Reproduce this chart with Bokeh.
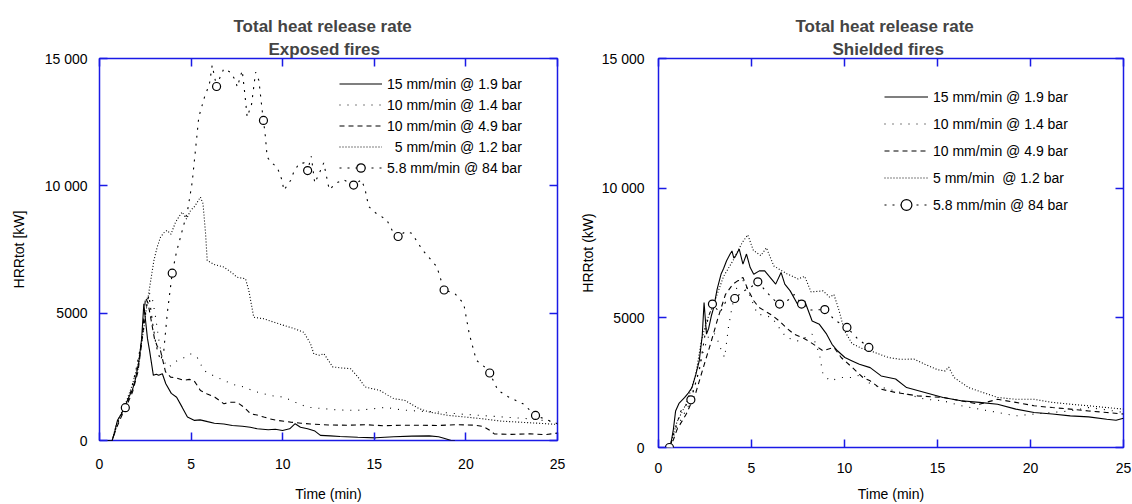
from bokeh.plotting import figure
from bokeh.models import LinearAxis, FixedTicker, Legend, LegendItem, Title, Range1d
from bokeh.layouts import row
from bokeh.embed import file_html
from bokeh.resources import INLINE

# ---------------- data: Exposed fires ----------------
labels = ["15 mm/min @ 1.9 bar", "10 mm/min @ 1.4 bar", "10 mm/min @ 4.9 bar",
          "\u20075 mm/min @ 1.2 bar", "5.8 mm/min @ 84 bar"]
labels_sh = ["15 mm/min @ 1.9 bar", "10 mm/min @ 1.4 bar", "10 mm/min @ 4.9 bar",
             "5 mm/min  @ 1.2 bar", "5.8 mm/min @ 84 bar"]
x_ticks = [0, 5, 10, 15, 20, 25]
y_ticks = [0, 5000, 10000, 15000]
y_tick_labels = {0: "0", 5000: "5000", 10000: "10 000", 15000: "15 000"}

exp_t1 = [0, 0.69, 0.85, 0.98, 1.2, 1.37, 1.6, 1.8, 1.96, 2.15, 2.3, 2.42, 2.5, 2.62, 2.74, 2.94, 3.1, 3.23,
          3.43, 3.62, 3.92, 4.21, 4.51, 4.8, 5.19, 5.49, 5.9, 6.27, 6.79, 7.25, 7.8, 8.23, 8.61, 9.21, 9.6,
          9.99, 10.38, 10.68, 10.97, 11.36, 11.76, 12.06, 12.6, 13.13, 14.1, 15.09, 16.07, 17.05, 18.0,
          18.51, 18.8, 19.2, 19.4]
exp_h1 = [0, 0, 400, 790, 1050, 1310, 1700, 2000, 2400, 3100, 4000, 5370, 4800, 4000, 3500, 2560, 2600, 2560,
          2620, 2230, 1850, 1700, 1310, 920, 790, 810, 740, 680, 650, 590, 560, 520, 460, 420, 440,
          390, 460, 660, 520, 460, 370, 200, 180, 160, 130, 105, 150, 170, 180,
          150, 90, 0, 0]

exp_t2 = [0, 0.7, 0.9, 1.2, 1.5, 1.8, 2.1, 2.4, 2.65, 2.85, 3.05, 3.25, 3.42, 3.69, 3.95, 4.24, 4.6, 4.97,
          5.33, 5.7, 6.2, 6.79, 7.3, 7.88, 8.4, 8.97, 9.5, 10.06, 10.7, 11.33, 12.24, 13.0, 14.0, 15.0, 15.6,
          16.5, 17.5, 18.5, 19.5, 20.5, 21.5, 22.5, 23.5, 24.3, 25]
exp_h2 = [0, 0, 500, 1000, 1450, 2000, 2800, 4300, 5820, 5700, 4900, 3900, 3270, 2880, 2950, 3140, 3250, 3400,
          3270, 2750, 2550, 2360, 2200, 2100, 1950, 1830, 1750, 1700, 1500, 1310, 1250, 1200, 1180, 1250, 1300,
          1200, 1150, 1120, 1050, 1000, 950, 900, 850, 780, 720]

exp_t3 = [0, 0.7, 0.9, 1.2, 1.5, 1.8, 2.1, 2.3, 2.51, 2.65, 2.8, 3.0, 3.15, 3.33, 3.6, 3.88, 4.2, 4.6, 4.9,
          5.15, 5.35, 5.51, 5.88, 6.3, 6.79, 7.1, 7.51, 7.9, 8.24, 8.6, 8.97, 9.3, 9.7, 10.43, 11.0, 11.52,
          12.5, 13.5, 14.5, 15.5, 16.5, 17.5, 18.5, 19.5, 20.5, 20.96, 21.3, 21.55, 22.5, 23.5, 24.3, 25]
exp_h3 = [0, 0, 450, 950, 1400, 1900, 2700, 3800, 5600, 5400, 4800, 4000, 3700, 3530, 2700, 2490, 2450, 2360, 2400,
          2360, 2150, 1960, 1830, 1700, 1440, 1500, 1500, 1300, 1050, 1000, 920, 850, 790, 720, 680, 650,
          610, 600, 620, 580, 600, 600, 590, 620, 600, 550, 400, 260, 240, 260, 230, 290]

exp_t4 = [0, 0.7, 0.9, 1.2, 1.5, 1.8, 2.1, 2.4, 2.6, 2.8, 2.97, 3.15, 3.33, 3.5, 3.69, 3.9, 4.15, 4.35, 4.51,
          4.75, 4.97, 5.2, 5.51, 5.65, 5.79, 5.88, 6.3, 6.79, 7.2, 7.51, 7.97, 8.15, 8.42, 8.97, 9.5, 10.06,
          10.6, 11.15, 11.52, 11.7, 12.0, 12.25, 12.73, 13.2, 13.7, 14.1, 14.5, 15.28, 16.07, 16.65, 17.44,
          18.0, 18.99, 19.98, 20.96, 21.94, 22.92, 23.9, 25]
exp_h4 = [0, 0, 600, 1100, 1600, 2200, 3000, 4300, 5400, 6300, 7070, 7600, 7980, 8150, 8250, 8100, 8570, 8800, 8970,
          8700, 9030, 9200, 9560, 9300, 8120, 7070, 6900, 6810, 6600, 6410, 6350, 5890, 4840, 4780, 4650, 4520,
          4400, 4250, 3800, 3400, 3350, 3410, 2890, 2850, 2820, 2500, 2100, 1970, 1640, 1580, 1250,
          1120, 990, 920, 850, 760, 720, 680, 630]

exp_t5 = [0, 0.7, 0.9, 1.1, 1.41, 1.7, 2.0, 2.3, 2.55, 2.7, 2.9, 3.1, 3.33, 3.51, 3.7, 3.97, 4.2, 4.5, 4.8, 5.06,
          5.42, 5.73, 6.0, 6.15, 6.39, 6.6, 6.79, 7.15, 7.42, 7.52, 7.79, 7.95, 8.06, 8.3, 8.52, 8.7, 8.88, 8.95,
          9.06, 9.15, 9.4, 9.7, 9.97, 10.06, 10.43, 10.58, 10.88, 11.17, 11.36, 11.56, 11.75, 12.0, 12.24,
          12.54, 12.93, 13.32, 13.87, 14.3, 14.5, 14.69, 15.08, 15.67, 16.06, 16.3, 16.7, 17.04, 17.63, 18.41,
          18.81, 19.39, 19.88, 20.18, 20.57, 21.0, 21.3, 21.75, 22.33, 23.12, 23.8, 24.29, 25]
exp_h5 = [0, 0, 500, 900, 1290, 1900, 2800, 3900, 5200, 5700, 4600, 3700, 3140, 3530, 5000, 6570, 7400, 8200, 9000,
          10140, 12700, 13480, 14000, 14730, 13900, 14300, 14600, 14460, 14140, 13880, 14530, 13500, 12700, 13200,
          14460, 14140, 12960, 12570, 11910, 11130, 10900, 10730, 10210, 9820, 10210, 10500, 10870, 10900, 10600,
          11160, 10110, 10500, 10900, 9850, 10110, 10240, 10030, 10240, 9850, 9190, 8930, 8670, 8140, 8010,
          8200, 8140, 7480, 6830, 5910, 5780, 5380, 4200, 3150, 2900, 2650, 1970, 1710, 1440, 985, 850, 660]
exp_mark_t = [1.41, 3.97, 6.39, 8.95, 11.36, 13.87, 16.3, 18.81, 21.3, 23.8]
exp_mark_h = [1290, 6570, 13900, 12570, 10600, 10030, 8010, 5910, 2650, 985]

# ---------------- data: Shielded fires ----------------
sh_t1 = [0, 0.63, 0.8, 0.92, 1.1, 1.41, 1.6, 1.8, 2.0, 2.19, 2.35, 2.45, 2.58, 2.7, 2.85, 2.97, 3.15, 3.36, 3.5,
         3.66, 3.85, 3.95, 4.05, 4.15, 4.34, 4.54, 4.73, 4.93, 5.12, 5.42, 5.71, 6.0, 6.3, 6.59, 6.79, 7.08,
         7.47, 7.67, 7.86, 8.26, 8.65, 9.04, 9.33, 9.62, 10.02, 10.41, 10.8, 11.38, 11.97, 12.75, 13.34, 14.32,
         15.3, 16.27, 17.25, 18.23, 19.21, 20.19, 21.17, 22.14, 23.12, 24.1, 24.6, 25]
sh_h1 = [0, 0, 700, 1410, 1700, 1930, 2100, 2310, 2800, 3340, 4300, 5590, 4370, 4600, 5100, 5400, 6100, 6680, 6900,
         7200, 7460, 7580, 7300, 7390, 7650, 7070, 7460, 6940, 6680, 6810, 6810, 6560, 6300, 6750, 6300, 6040,
         5530, 5400, 5650, 4880, 4750, 4370, 3980, 3730, 3470, 3340, 3210, 3080, 2760, 2640, 2310, 2120,
         1930, 1800, 1740, 1670, 1480, 1350, 1290, 1220, 1180, 1090, 1050, 1130]

sh_t2 = [0, 0.6, 0.8, 1.0, 1.3, 1.6, 2.0, 2.4, 2.7, 3.0, 3.2, 3.4, 3.56, 3.76, 3.95, 4.15, 4.34, 4.6, 5.0, 5.32,
         5.7, 6.1, 6.5, 6.88, 7.47, 7.9, 8.26, 8.65, 8.84, 9.23, 9.82, 10.41, 10.99, 11.38, 12.36, 13.34, 14.32,
         15.3, 16.27, 17.25, 18.23, 19.21, 20.19, 21.17, 22.14, 23.12, 24.1, 25]
sh_h2 = [0, 0, 400, 800, 1200, 1600, 2500, 3700, 4300, 4400, 4100, 3700, 3470, 4630, 5400, 6000, 6550, 6400, 5700, 5140,
         5100, 5010, 4600, 4240, 4110, 4250, 4370, 3600, 2830, 2570, 2700, 2700, 2830, 2440, 2250, 2060, 1860,
         1800, 1610, 1480, 1350, 1220, 1290, 1350, 1410, 1540, 1450, 1350]

sh_t3 = [0, 0.6, 0.8, 1.0, 1.5, 2.0, 2.5, 2.8, 3.2, 3.6, 4.0, 4.3, 4.54, 4.8, 5.12, 5.4, 5.71, 6.1, 6.49, 6.9,
         7.28, 7.7, 8.06, 8.5, 8.84, 9.43, 9.82, 10.41, 10.99, 11.38, 11.97, 12.75, 13.93, 15.3, 16.27, 17.25,
         18.23, 19.21, 20.19, 21.17, 22.14, 23.12, 24.1, 25]
sh_h3 = [0, 0, 300, 700, 1300, 2100, 3300, 4000, 5000, 5900, 6300, 6450, 6560, 6100, 5660, 5400, 5270, 5100, 4880, 4600,
         4370, 4250, 4110, 3900, 3730, 3860, 3470, 3090, 2700, 2570, 2250, 2120, 1990, 1930, 1800, 1670,
         1860, 1740, 1610, 1540, 1480, 1410, 1350, 1290]

sh_t4 = [0, 0.6, 0.8, 1.0, 1.5, 2.0, 2.3, 2.6, 3.0, 3.5, 4.0, 4.5, 4.8, 5.1, 5.5, 5.8, 6.2, 6.9, 7.5, 7.86, 8.2,
         8.84, 9.2, 9.43, 9.7, 10.0, 10.41, 11.0, 11.38, 12.36, 13.0, 13.73, 14.32, 15.0, 15.4, 15.6, 15.89,
         16.67, 17.45, 18.23, 19.21, 20.19, 21.17, 22.14, 23.12, 24.1, 25]
sh_h4 = [0, 0, 500, 1000, 1700, 2800, 4100, 4900, 5600, 6600, 7200, 7900, 8200, 7600, 7400, 7700, 7000, 6700, 6500,
         6600, 6000, 6040, 5800, 5900, 5300, 4500, 4000, 3800, 3730, 3470, 3400, 3410, 3210, 3000, 2950, 3100, 2700,
         2310, 2120, 1930, 1860, 1860, 1740, 1670, 1610, 1540, 1480]

sh_t5 = [0, 0.59, 0.8, 1.2, 1.74, 2.2, 2.6, 2.9, 3.3, 3.6, 4.1, 4.5, 5.0, 5.34, 5.8, 6.2, 6.51, 7.0, 7.3, 7.69,
         8.2, 8.94, 9.5, 10.13, 10.7, 11.31, 11.6]
sh_h5 = [0, 0, 500, 1400, 1840, 3000, 4800, 5530, 5200, 5600, 5745, 6000, 6200, 6390, 6000, 5700, 5530, 5700, 5900,
         5530, 5300, 5320, 4900, 4630, 4200, 3860, 3700]
sh_mark_t = [0.59, 1.74, 2.9, 4.1, 5.34, 6.51, 7.69, 8.94, 10.13, 11.31]
sh_mark_h = [0, 1840, 5530, 5745, 6390, 5530, 5530, 5320, 4630, 3860]

# ---------------- styling ----------------
FONT = "Liberation Sans"
BLUE = "#1a1ae6"
DASHES = ["solid", "1 7", "5 4", "1 2", "2 6"]


def base_axis_style(ax):
    ax.axis_line_color = None
    ax.major_tick_in = 8
    ax.major_tick_out = 0
    ax.major_tick_line_color = BLUE
    ax.major_tick_line_width = 1.5
    ax.minor_tick_line_color = None


def make_plot(series, marks, titles, title_offsets, ylabel, legend_labels, fw, fh, bl, bt, bb, br,
              xstand, xlab_stand, ystand, ylab_stand, leg_xy, leg_rowh, leg_gw):
    p = figure(x_range=Range1d(0, 25), y_range=Range1d(0, 15000),
               frame_width=fw, frame_height=fh,
               min_border_left=bl, min_border_top=bt, min_border_bottom=bb, min_border_right=br,
               output_backend="svg", toolbar_location=None, title=None)
    p.grid.visible = False
    p.outline_line_color = BLUE
    p.outline_line_width = 1.5
    p.background_fill_color = "white"
    p.border_fill_color = "white"

    p.xaxis.ticker = FixedTicker(ticks=x_ticks)
    p.yaxis.ticker = FixedTicker(ticks=y_ticks)
    for ax in (p.xaxis[0], p.yaxis[0]):
        base_axis_style(ax)
        ax.major_label_text_font = FONT
        ax.major_label_text_font_size = "14px"
        ax.major_label_text_color = "black"
        ax.axis_label_text_font = FONT
        ax.axis_label_text_font_size = "14px"
        ax.axis_label_text_font_style = "normal"
        ax.axis_label_text_color = "black"
    p.xaxis.axis_label = "Time (min)"
    p.xaxis.major_label_standoff = xstand
    p.xaxis.axis_label_standoff = xlab_stand
    p.yaxis.axis_label = ylabel
    p.yaxis.major_label_standoff = ystand
    p.yaxis.axis_label_standoff = ylab_stand
    p.yaxis.major_label_overrides = y_tick_labels

    # tick-only axes on top and right (labels not drawn)
    top = LinearAxis(ticker=FixedTicker(ticks=x_ticks))
    right = LinearAxis(ticker=FixedTicker(ticks=y_ticks))
    for ax in (top, right):
        base_axis_style(ax)
        ax.major_label_text_font_size = "1px"
        ax.major_label_text_color = None
        ax.major_label_standoff = 0
    p.add_layout(top, "above")
    p.add_layout(right, "right")

    p.add_layout(Title(text=titles[1], align="left", offset=title_offsets[1], text_font=FONT,
                       text_font_size="17px", text_font_style="bold", standoff=0), "above")
    p.add_layout(Title(text=titles[0], align="left", offset=title_offsets[0], text_font=FONT,
                       text_font_size="17px", text_font_style="bold", standoff=3), "above")

    items = []
    for i, (t, h) in enumerate(series):
        r = p.line(t, h, line_color="black", line_width=1.1, line_dash=DASHES[i])
        rs = [r]
        if i == 4:
            s = p.scatter(marks[0], marks[1], marker="circle", size=8, fill_color="white",
                          line_color="black", line_width=1.2)
            rs.append(s)
        items.append(LegendItem(label=legend_labels[i], renderers=rs))

    leg = Legend(items=items, location=leg_xy, glyph_width=leg_gw, glyph_height=leg_rowh,
                 label_height=leg_rowh, spacing=0, padding=0, margin=0, label_standoff=5,
                 label_text_font=FONT, label_text_font_size="14px", label_text_color="black",
                 background_fill_alpha=0, border_line_alpha=0)
    p.add_layout(leg)
    return p


p1 = make_plot([(exp_t1, exp_h1), (exp_t2, exp_h2), (exp_t3, exp_h3), (exp_t4, exp_h4), (exp_t5, exp_h5)],
               (exp_mark_t, exp_mark_h), ("Total heat release rate", "Exposed fires"), (134, 169),
               "HRRtot [kW]", labels,
               fw=458, fh=382, bl=99, bt=58, bb=64, br=13,
               xstand=18, xlab_stand=14, ystand=12, ylab_stand=15,
               leg_xy=(240, 262), leg_rowh=21, leg_gw=43)

p2 = make_plot([(sh_t1, sh_h1), (sh_t2, sh_h2), (sh_t3, sh_h3), (sh_t4, sh_h4), (sh_t5, sh_h5)],
               (sh_mark_t, sh_mark_h), ("Total heat release rate", "Shielded fires"), (137, 174),
               "HRRtot (kW)", labels_sh,
               fw=465, fh=389, bl=88, bt=58, bb=57, br=9,
               xstand=15, xlab_stand=10, ystand=14, ylab_stand=3,
               leg_xy=(226, 229), leg_rowh=27, leg_gw=44)

layout = row(p1, p2)
open("out.html", "w").write(file_html(layout, INLINE))
